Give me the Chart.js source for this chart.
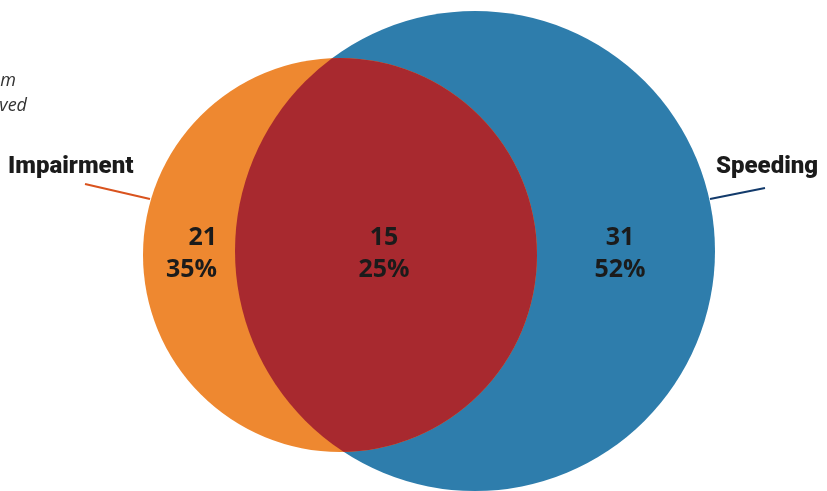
<!DOCTYPE html>
<html lang="en">
<head>
  <meta charset="utf-8">
  <title>Impairment and speeding</title>
  <script src="https://cdn.jsdelivr.net/npm/chart.js"></script>
  <style>
    * { box-sizing:border-box; margin:0; padding:0 }
    body { background:#fff; width:827px; height:491px; overflow:hidden }
    #wrap { position:relative; width:827px; height:491px }
  </style>
</head>
<body>
  <div id="wrap"><canvas id="venn"></canvas></div>

  <script>
  // ===== DATA =====
  const setNames   = ['Impairment', 'Speeding'];
  const regionKeys = ['Impairment only', 'Both', 'Speeding only'];
  const counts     = [21, 15, 31];
  const shares     = ['35%', '25%', '52%'];
  const introLines = ['from', 'involved'];   // cut off at left edge

  // circle layout in chart units (x 0..827, y 0..491, top down)
  const circleX = [340, 475];
  const circleY = [255, 251];
  const circleR = [197, 240];

  const colors = { orange:'#ee8830', blue:'#2e7dac', red:'#a8292f', ink:'#1b1b1b' };

  // ===== overlap + labels plugin =====
  const vennPlugin = {
    id: 'vennExtras',
    afterDatasetsDraw(chart) {
      const { ctx, scales:{ x, y } } = chart;
      const px = i => x.getPixelForValue(circleX[i]);
      const py = i => y.getPixelForValue(circleY[i]);
      const pr = i => Math.abs(x.getPixelForValue(circleR[i]) - x.getPixelForValue(0));

      // intersection
      ctx.save();
      ctx.beginPath();
      ctx.arc(px(0), py(0), pr(0), 0, Math.PI * 2);
      ctx.clip();
      ctx.beginPath();
      ctx.arc(px(1), py(1), pr(1), 0, Math.PI * 2);
      ctx.fillStyle = colors.red;
      ctx.fill();
      ctx.restore();

      // leader lines
      ctx.save();
      ctx.lineWidth = 2;
      ctx.strokeStyle = '#d9531e';
      ctx.beginPath(); ctx.moveTo(85, 184); ctx.lineTo(150, 199); ctx.stroke();
      ctx.strokeStyle = '#123a6b';
      ctx.beginPath(); ctx.moveTo(710, 199); ctx.lineTo(765, 188); ctx.stroke();

      // set names
      ctx.fillStyle = colors.ink;
      ctx.font = '900 24px Roboto, "Open Sans", sans-serif';
      ctx.textBaseline = 'alphabetic';
      ctx.textAlign = 'left';
      ctx.fillText(setNames[0], 8, 173);
      ctx.fillText(setNames[1], 716, 173);

      // region numbers
      const labelX = [217, 384, 620];
      const align  = ['right', 'center', 'center'];
      ctx.font = 'bold 25px "Open Sans", sans-serif';
      ctx.textBaseline = 'middle';
      counts.forEach((c, i) => {
        ctx.textAlign = align[i];
        const cx = x.getPixelForValue(labelX[i]);
        ctx.fillText(String(c), cx, y.getPixelForValue(238));
        ctx.fillText(shares[i], cx, y.getPixelForValue(270));
      });

      // intro text
      ctx.fillStyle = '#333';
      ctx.font = 'italic 18px "Open Sans", sans-serif';
      ctx.textAlign = 'right';
      ctx.textBaseline = 'alphabetic';
      ctx.fillText(introLines[0], 16, 86);
      ctx.fillText(introLines[1], 27, 111);
      ctx.restore();
    }
  };

  // ===== Chart =====
  new Chart(document.getElementById('venn'), {
    type: 'bubble',
    data: {
      datasets: setNames.map((name, i) => ({
        label: name,
        data: [{ x: circleX[i], y: circleY[i], r: circleR[i] }],
        backgroundColor: i === 0 ? colors.orange : colors.blue,
        borderWidth: 0,
        hoverBorderWidth: 0,
        clip: false
      }))
    },
    options: {
      responsive: true,
      maintainAspectRatio: false,
      animation: false,
      events: [],
      layout: { padding: 0, autoPadding: false },
      plugins: { legend:{ display:false }, tooltip:{ enabled:false } },
      scales: {
        x: { type:'linear', min:0, max:827, display:false },
        y: { type:'linear', min:0, max:491, reverse:true, display:false }
      }
    },
    plugins: [vennPlugin]
  });
  </script>
</body>
</html>
